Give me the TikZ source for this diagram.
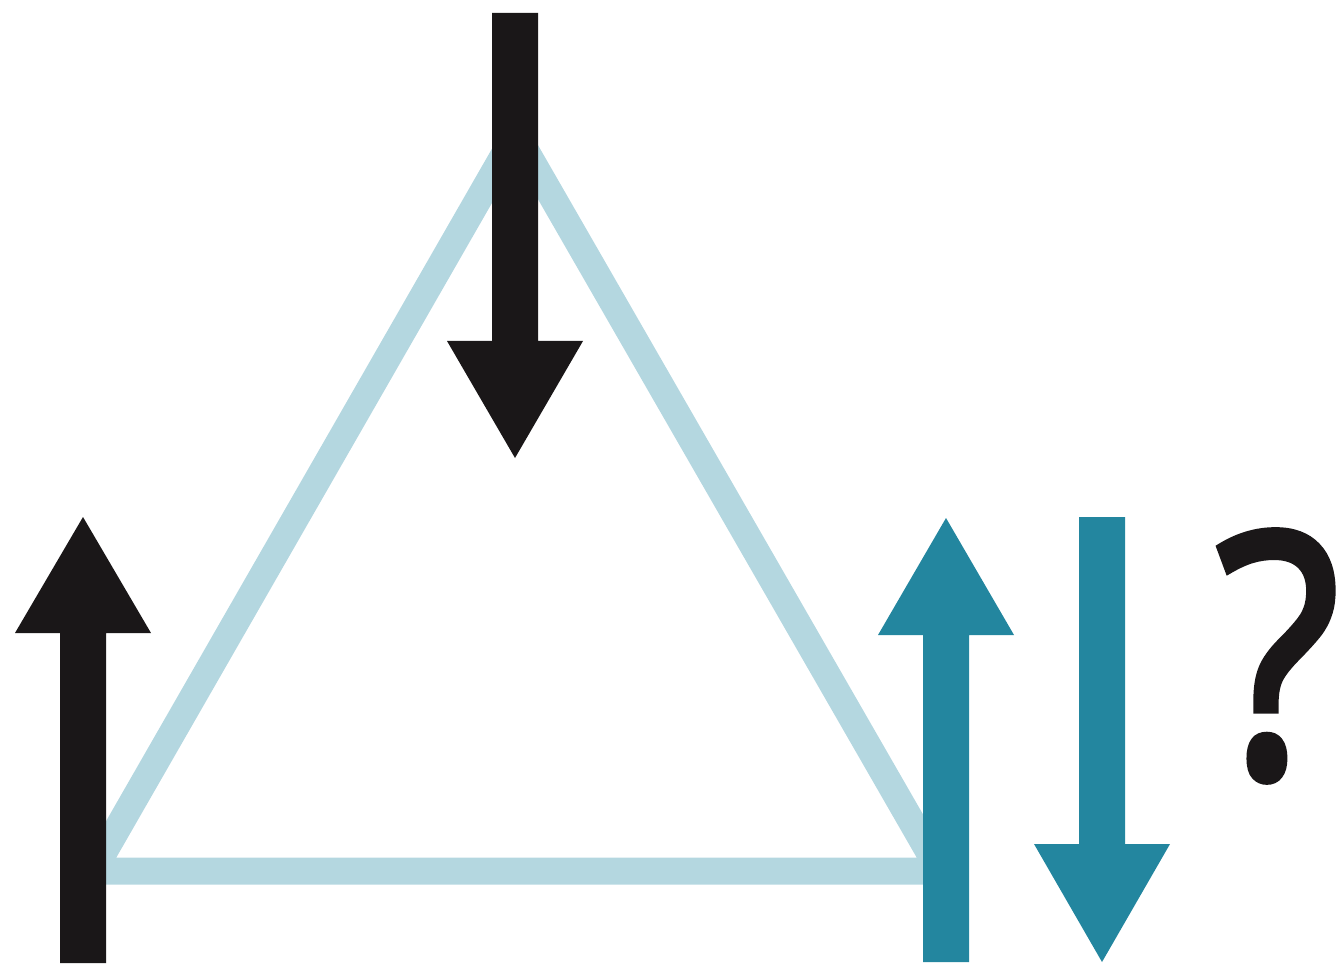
\documentclass[tikz,border=0pt]{standalone}
\usepackage{fontspec}
\newfontfamily\qfont{Open Sans}[FakeBold=2.5]
\usetikzlibrary{calc}

\definecolor{arrblack}{RGB}{26,23,24}
\definecolor{arrteal}{RGB}{35,134,159}
\definecolor{trilight}{RGB}{180,215,224}

\begin{document}
\begin{tikzpicture}[
    x=0.01cm, y=-0.01cm,
    tri_side/.style={draw=trilight, line width=0.27cm, line join=miter},
    qmark_txt/.style={inner sep=0pt, text=arrblack, font=\qfont\fontsize{96}{96}\selectfont}
]
    \useasboundingbox (0,0) rectangle (1337,967);

    % Triangle corners
    \coordinate (apex) at (516,134);
    \coordinate (bl) at (93,871);
    \coordinate (br) at (940,871);
    \draw[tri_side] (apex) -- (bl) -- (br) -- cycle;

    % Block arrows: x / tail / head base / tip / colour
    \foreach \x/\ytail/\ybase/\ytip/\col in {83/963/633/517/arrblack, 515/13/341/458/arrblack, 946/962/635/518/arrteal, 1102/517/844/962/arrteal} {
        \fill[\col] (\x-23,\ytail) -- (\x-23,\ybase) -- (\x-68,\ybase) -- (\x,\ytip)
            -- (\x+68,\ybase) -- (\x+23,\ybase) -- (\x+23,\ytail) -- cycle;
    }

    % Question mark
    \node[qmark_txt] (qmark) at (1278,656) {\scalebox{0.85}[1]{?}};

\end{tikzpicture}
\end{document}
